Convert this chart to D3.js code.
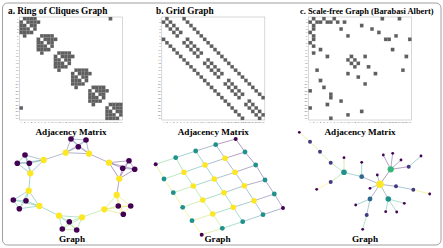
<!DOCTYPE html>
<html>
<head>
<meta charset="utf-8">
<script src="https://cdn.jsdelivr.net/npm/d3@7"></script>
<style>
  body { margin: 0; background: #fff; }
  svg { display: block; }
  text { font-family: "Liberation Serif", "Times New Roman", serif; }
</style>
</head>
<body>
<script>
// ---- a. ring of cliques (6 cliques of 5 nodes) ----
var ringCliques = [[0,1,2,3,4],[5,6,7,8,9],[10,11,12,13,14],[15,16,17,18,19],[20,21,22,23,24],[25,26,27,28,29]];
var ringLinks = [[1,5],[6,10],[11,15],[16,20],[21,25],[0,26]];
// layout positions (local units), node order 0..29
var ringPos = [[119.3,58.7],[109,42.7],[129,40.7],[122.7,48.3],[134.7,49.3],
  [89,33.7],[65.7,32.7],[71,19],[86,20],[78.3,26.7],
  [43.7,40],[30.3,53.3],[25,35],[17.3,43.3],[29.3,43.3],
  [28.7,70.7],[39.3,86],[13.3,80],[26,80.7],[19.3,88.7],
  [59,95.7],[82,97.3],[62.3,109],[76.7,110],[69.3,101.7],
  [104.3,89.3],[116.7,75],[118.3,86],[130.7,86],[123.3,94.3]];

// ---- b. grid graph 5 x 6 ----
var gridIds = [[0,1,2,3,4,5],[6,7,8,9,10,11],[12,13,14,15,16,17],[18,19,20,21,22,23],[24,25,26,27,28,29]];
var gridPos = [[90.7,19],[100,32],[110.7,45],[120,60],[129.3,74],[138,88],
  [70.7,24.7],[80,38.3],[90,52.3],[99.3,65.7],[109,80.7],[118,94.7],
  [50.7,31],[60,45],[69.3,59],[79,72.7],[88.3,87.3],[97.7,101.7],
  [30.7,37.7],[39,52.3],[48.3,66],[57.7,80],[67.7,94],[77.3,108.3],
  [10.7,44.3],[19,59],[28.3,72.7],[37.7,87.3],[47,100.7],[56.7,114.7]];

// ---- c. scale-free (Barabasi Albert, m=1) ----
var baEdges = [[0,1],[0,4],[0,7],[0,21],[0,26],[1,2],[1,3],[1,5],[1,6],[1,8],[1,10],
  [2,15],[3,9],[3,18],[4,20],[5,11],[5,25],[6,22],[6,23],[6,29],[9,24],
  [11,12],[11,16],[11,28],[12,13],[13,14],[14,17],[15,27],[16,19]];
var baPos = [[95.7,49.3],[85,64.3],[101,66.3],[75,79],[113.7,46.7],[66.7,56.7],[93.3,79],[88.3,35],
  [75,68.3],[71.7,95],[82.3,55],[49,52.3],[35.7,42.7],[25,31.7],[15,21.7],[118.3,69.7],
  [35.7,62],[4.3,12.3],[60.7,85],[21.7,69.3],[126,36],[97.7,33.3],[90.7,91.7],[101.7,92],
  [67.7,109.3],[66.7,42.3],[106,40],[134.7,74],[49,37.7],[109.3,83.3]];

var titles = ["a. Ring of Cliques Graph", "b. Grid Graph", "c. Scale-free Graph (Barabasi Albert)"];
var titleSize = [9.3, 9.3, 8.4];
var nNodes = 30;

// build edge lists
function cliqueEdges(groups, extra) {
  var e = [];
  groups.forEach(function(g) {
    for (var i = 0; i < g.length; i++)
      for (var j = i + 1; j < g.length; j++) e.push([g[i], g[j]]);
  });
  return e.concat(extra);
}
function gridEdges(ids) {
  var e = [];
  ids.forEach(function(row, r) {
    row.forEach(function(id, c) {
      if (c + 1 < row.length) e.push([id, row[c + 1]]);
      if (r + 1 < ids.length) e.push([id, ids[r + 1][c]]);
    });
  });
  return e;
}
function sortEdges(e) {
  return e.map(function(d) { return [Math.min(d[0], d[1]), Math.max(d[0], d[1])]; })
    .sort(function(a, b) { return a[0] - b[0] || a[1] - b[1]; });
}

var graphs = [
  { edges: sortEdges(cliqueEdges(ringCliques, ringLinks)), pos: ringPos, ox: 0 },
  { edges: sortEdges(gridEdges(gridIds)), pos: gridPos, ox: 145 },
  { edges: sortEdges(baEdges), pos: baPos, ox: 295 }
];
var matX = [19.5, 161.8, 308.5];
var matY = 17, matSize = 103;

var W = 443, H = 248;
var svg = d3.select("body").append("svg").attr("width", W).attr("height", H);

svg.append("rect")
  .attr("x", 2.5).attr("y", 3).attr("width", 438.5).attr("height", 242)
  .attr("rx", 5).attr("fill", "#fff").attr("stroke", "#a0a0a0").attr("stroke-width", 1);

var titleX = [8, 156, 300];
var idx = d3.range(nNodes);

graphs.forEach(function(g, k) {
  var ox = g.ox;
  // title
  svg.append("text").attr("x", titleX[k]).attr("y", 13.5)
    .attr("font-size", titleSize[k]).attr("font-weight", "bold").attr("fill", "#000")
    .text(titles[k]);

  // ---- adjacency matrix ----
  var band = d3.scaleBand().domain(idx).range([0, matSize]);
  var m = svg.append("g").attr("transform", "translate(" + matX[k] + "," + matY + ")");
  m.append("rect").attr("width", matSize).attr("height", matSize)
    .attr("fill", "#fff").attr("stroke", "#bdbdbd").attr("stroke-width", 0.6);
  var cells = [];
  g.edges.forEach(function(d) { cells.push([d[0], d[1]]); cells.push([d[1], d[0]]); });
  m.selectAll("rect.cell").data(cells).enter().append("rect")
    .attr("class", "cell")
    .attr("x", function(d) { return band(d[1]); })
    .attr("y", function(d) { return band(d[0]); })
    .attr("width", band.bandwidth()).attr("height", band.bandwidth())
    .attr("fill", "#5e5e5e").attr("stroke", "#8a8a8a").attr("stroke-width", 0.2);
  m.selectAll("text.xl").data(idx).enter().append("text")
    .attr("class", "xl")
    .attr("x", function(d) { return band(d) + band.bandwidth() / 2; })
    .attr("y", matSize + 3.4)
    .attr("text-anchor", "middle").attr("font-size", 2.9).attr("fill", "#555")
    .text(function(d) { return d + 1; });
  m.selectAll("text.yl").data(idx).enter().append("text")
    .attr("class", "yl")
    .attr("x", -1)
    .attr("y", function(d) { return band(d) + band.bandwidth() / 2 + 1; })
    .attr("text-anchor", "end").attr("font-size", 2.9).attr("fill", "#555")
    .text(function(d) { return d + 1; });

  var cx = matX[k] + matSize / 2;
  svg.append("text").attr("x", cx).attr("y", 134.5)
    .attr("text-anchor", "middle").attr("font-size", 9.2).attr("font-weight", "bold")
    .text("Adjacency Matrix");

  // ---- graph drawing ----
  var x = d3.scaleLinear().domain([0, 148]).range([ox, ox + 148]);
  var y = d3.scaleLinear().domain([0, 128]).range([120, 248]);
  var deg = idx.map(function() { return 0; });
  g.edges.forEach(function(d) { deg[d[0]]++; deg[d[1]]++; });
  var dExt = d3.extent(deg);
  var nodeColor = d3.scaleSequential(d3.interpolateViridis).domain(dExt);
  var edgeColor = d3.scaleSequential(d3.interpolateViridis).domain([0, g.edges.length - 1]);

  var gg = svg.append("g");
  gg.selectAll("line").data(g.edges).enter().append("line")
    .attr("x1", function(d) { return x(g.pos[d[0]][0]); })
    .attr("y1", function(d) { return y(g.pos[d[0]][1]); })
    .attr("x2", function(d) { return x(g.pos[d[1]][0]); })
    .attr("y2", function(d) { return y(g.pos[d[1]][1]); })
    .attr("stroke", function(d, i) { return edgeColor(i); })
    .attr("stroke-opacity", 0.5).attr("stroke-width", 0.8);
  gg.selectAll("circle").data(idx).enter().append("circle")
    .attr("cx", function(d) { return x(g.pos[d][0]); })
    .attr("cy", function(d) { return y(g.pos[d][1]); })
    .attr("r", function(d) { return 1.4 * Math.sqrt(deg[d]); })
    .attr("fill", function(d) { return nodeColor(deg[d]); });

  svg.append("text").attr("x", [72, 217.5, 365][k]).attr("y", 241.5)
    .attr("text-anchor", "middle").attr("font-size", 9.2).attr("font-weight", "bold")
    .text("Graph");
});
</script>
</body>
</html>
